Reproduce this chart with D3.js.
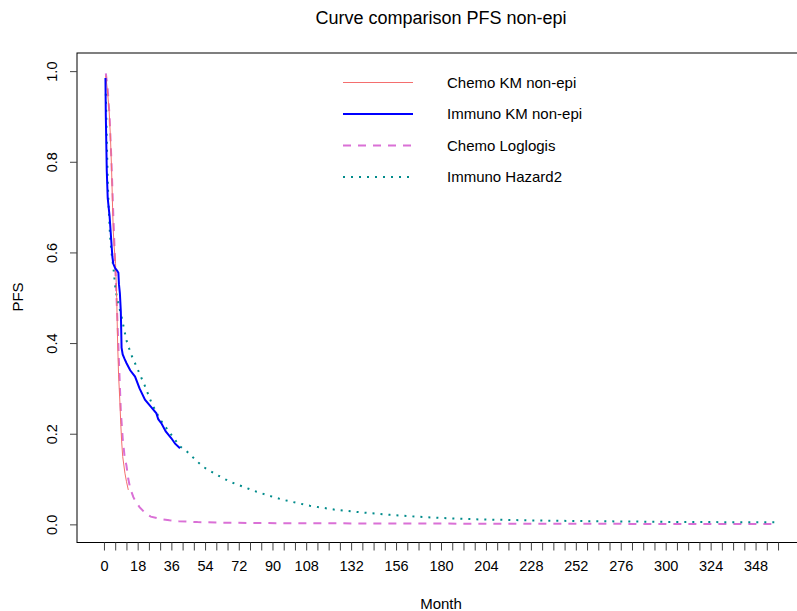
<!DOCTYPE html>
<html>
<head>
<meta charset="utf-8">
<script src="https://cdn.jsdelivr.net/npm/d3@7"></script>
<style>
  html, body { margin: 0; padding: 0; background: #fff; }
  svg { display: block; font-family: "Liberation Sans", Arial, sans-serif; }
</style>
</head>
<body>
<svg id="chart" width="797" height="611"></svg>
<script>
// Progression-free survival curves, month vs PFS
const chemoKM = [
  [1, 0.99], [2, 0.95], [2.8, 0.91], [3.5, 0.85], [4.1, 0.78], [4.6, 0.70],
  [5.0, 0.645], [5.5, 0.61], [6.2, 0.575], [6.8, 0.50], [7.3, 0.40], [7.8, 0.33],
  [8.5, 0.27], [9.0, 0.22], [9.4, 0.186], [10, 0.15], [11.2, 0.113], [12, 0.095], [13, 0.076]
];
const immunoKM = [
  [0.8, 0.985], [1, 0.90], [1.5, 0.78], [2, 0.72], [2.5, 0.70], [3, 0.68],
  [3.5, 0.65], [4, 0.62], [4.5, 0.59], [5, 0.575], [6, 0.565], [7, 0.56], [7.7, 0.555],
  [8, 0.53], [8.5, 0.51], [9, 0.47], [9.2, 0.43], [9.4, 0.39], [10, 0.375], [11, 0.365],
  [12, 0.356], [14, 0.34], [16.6, 0.326], [19, 0.30], [21.9, 0.275], [25, 0.26],
  [28, 0.245], [29, 0.232], [30.8, 0.222], [33, 0.205], [36, 0.19], [38, 0.178], [40.6, 0.168]
];
const chemoLoglogis = [
  [1, 0.995], [2, 0.96], [3, 0.90], [4, 0.80], [5, 0.68], [6, 0.57], [7, 0.47],
  [8, 0.36], [9, 0.25], [10, 0.19], [11, 0.15], [12, 0.13], [13, 0.10], [14, 0.08],
  [15.7, 0.06], [17, 0.05], [19, 0.038], [22, 0.025], [25, 0.017], [30, 0.012],
  [35, 0.009], [40, 0.007], [50, 0.005], [60, 0.004], [80, 0.003], [100, 0.0025],
  [150, 0.002], [200, 0.0015], [250, 0.0012], [300, 0.001], [358, 0.0008]
];
const immunoHazard2 = [
  [1, 0.95], [1.5, 0.85], [2, 0.76], [2.5, 0.70], [3.2, 0.64],
  [4, 0.60], [5, 0.568], [6.2, 0.517], [7.5, 0.49], [9.4, 0.458], [12, 0.406],
  [14.5, 0.375], [17.4, 0.348], [21.9, 0.305], [25.5, 0.267], [29.9, 0.232], [35, 0.203],
  [40.6, 0.172], [44, 0.162], [49.5, 0.140], [53, 0.127], [60, 0.11], [67.3, 0.094],
  [75, 0.082], [81.5, 0.072], [90, 0.061], [95.8, 0.054], [110, 0.041], [124, 0.032],
  [138.5, 0.026], [152.8, 0.021], [167, 0.017], [181, 0.014], [200, 0.011], [225, 0.009],
  [250, 0.0075], [275, 0.0065], [300, 0.0055], [325, 0.005], [358, 0.0045]
];

const seriesNames = ["Chemo KM non-epi", "Immuno KM non-epi", "Chemo Loglogis", "Immuno Hazard2"];
const xTicks = d3.range(0, 361, 6);
const xTickLabels = [0, 18, 36, 54, 72, 90, 108, 132, 156, 180, 204, 228, 252, 276, 300, 324, 348];
const yTicks = [0, 0.2, 0.4, 0.6, 0.8, 1.0];

const styles = [
  { color: "#f46e6e", width: 1, dash: null },
  { color: "#0000ff", width: 2, dash: null },
  { color: "#da70d6", width: 2, dash: "8,7" },
  { color: "#008b8b", width: 2, dash: "2,6" }
];
const seriesData = [chemoKM, immunoKM, chemoLoglogis, immunoHazard2];

const svg = d3.select("#chart");
const box = { left: 77, top: 53, right: 805, bottom: 542.5 };

const x = d3.scaleLinear().domain([-14.4, 374.4]).range([box.left, box.right]);
const y = d3.scaleLinear().domain([-0.04, 1.04]).range([box.bottom, box.top]);

// plot frame
svg.append("rect")
  .attr("x", box.left).attr("y", box.top)
  .attr("width", box.right - box.left).attr("height", box.bottom - box.top)
  .attr("fill", "none").attr("stroke", "#000").attr("stroke-width", 1);

// x axis
const xAxis = d3.axisBottom(x)
  .tickValues(xTicks)
  .tickSize(8)
  .tickPadding(10)
  .tickFormat(d => xTickLabels.includes(d) ? d : "");
const gx = svg.append("g").attr("transform", `translate(0,${box.bottom})`).call(xAxis);
gx.select(".domain").remove();
gx.selectAll("line").attr("stroke", "#444");
gx.selectAll("text").attr("font-size", 14.5).attr("fill", "#000")
  .attr("font-family", "'Liberation Sans', Arial, sans-serif");

// y axis with labels parallel to the axis
const yAxis = d3.axisLeft(y).tickValues(yTicks).tickSize(7).tickFormat(d3.format(".1f"));
const gy = svg.append("g").attr("transform", `translate(${box.left},0)`).call(yAxis);
gy.select(".domain").remove();
gy.selectAll("line").attr("stroke", "#444");
gy.selectAll("text")
  .attr("font-size", 14.5).attr("fill", "#000")
  .attr("font-family", "'Liberation Sans', Arial, sans-serif")
  .attr("x", null).attr("dy", null)
  .attr("text-anchor", "middle")
  .attr("transform", "translate(-20,0) rotate(-90)");

// curves
const line = d3.line().x(d => x(d[0])).y(d => y(d[1]));
const plotDraw = [2, 3, 0, 1];
plotDraw.forEach(i => {
  svg.append("path")
    .datum(seriesData[i])
    .attr("d", line)
    .attr("fill", "none")
    .attr("stroke", styles[i].color)
    .attr("stroke-width", styles[i].width)
    .attr("stroke-dasharray", styles[i].dash);
});

// titles
svg.append("text").attr("x", 441).attr("y", 24).attr("text-anchor", "middle")
  .attr("font-size", 18).text("Curve comparison PFS non-epi");
svg.append("text").attr("x", 441).attr("y", 609).attr("text-anchor", "middle")
  .attr("font-size", 15).text("Month");
svg.append("text").attr("transform", "translate(23,297) rotate(-90)").attr("text-anchor", "middle")
  .attr("font-size", 15).text("PFS");

// legend
const legendY = [82.5, 114, 145.5, 177];
const lg = svg.append("g");
seriesNames.forEach((name, i) => {
  lg.append("line")
    .attr("x1", 343).attr("x2", 413).attr("y1", legendY[i]).attr("y2", legendY[i])
    .attr("stroke", styles[i].color).attr("stroke-width", styles[i].width)
    .attr("stroke-dasharray", styles[i].dash);
  lg.append("text").attr("x", 447).attr("y", legendY[i]).attr("dy", "0.35em")
    .attr("font-size", 15).text(name);
});
</script>
</body>
</html>
